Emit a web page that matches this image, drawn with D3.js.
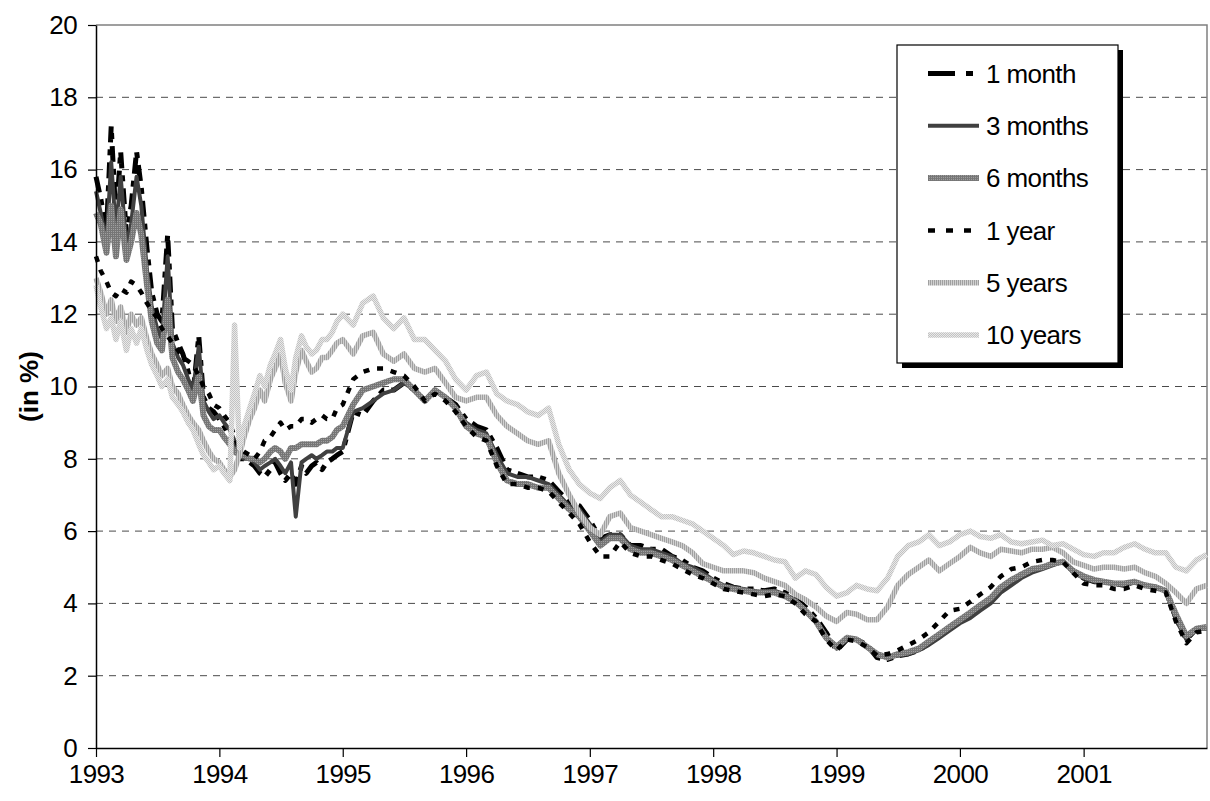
<!DOCTYPE html>
<html>
<head>
<meta charset="utf-8">
<script src="https://cdn.jsdelivr.net/npm/d3@7"></script>
<style>
  body { margin: 0; background: #fff; }
  svg { display: block; font-family: "Liberation Sans", Arial, sans-serif; }
</style>
</head>
<body>
<div id="chart"></div>
<script>
// observation dates: half-monthly in 1993-94, monthly afterwards
const dates = [
  "1993-01-01","1993-01-15","1993-02-01","1993-02-15","1993-03-01","1993-03-15","1993-04-01","1993-04-15","1993-05-01","1993-05-15","1993-06-01","1993-06-15",
  "1993-07-01","1993-07-15","1993-08-01","1993-08-15","1993-09-01","1993-09-15","1993-10-01","1993-10-15","1993-11-01","1993-11-15","1993-12-01","1993-12-15",
  "1994-01-01","1994-01-15","1994-02-01","1994-02-15","1994-03-01","1994-03-15","1994-04-01","1994-04-15","1994-05-01","1994-05-15","1994-06-01","1994-06-15",
  "1994-07-01","1994-07-15","1994-08-01","1994-08-15","1994-09-01","1994-09-15","1994-10-01","1994-10-15","1994-11-01","1994-11-15","1994-12-01","1994-12-15",
  "1995-01-01","1995-02-01","1995-03-01","1995-04-01","1995-05-01","1995-06-01","1995-07-01","1995-08-01","1995-09-01","1995-10-01","1995-11-01","1995-12-01",
  "1996-01-01","1996-02-01","1996-03-01","1996-04-01","1996-05-01","1996-06-01","1996-07-01","1996-08-01","1996-09-01","1996-10-01","1996-11-01","1996-12-01",
  "1997-01-01","1997-02-01","1997-03-01","1997-04-01","1997-05-01","1997-06-01","1997-07-01","1997-08-01","1997-09-01","1997-10-01","1997-11-01","1997-12-01",
  "1998-01-01","1998-02-01","1998-03-01","1998-04-01","1998-05-01","1998-06-01","1998-07-01","1998-08-01","1998-09-01","1998-10-01","1998-11-01","1998-12-01",
  "1999-01-01","1999-02-01","1999-03-01","1999-04-01","1999-05-01","1999-06-01","1999-07-01","1999-08-01","1999-09-01","1999-10-01","1999-11-01","1999-12-01",
  "2000-01-01","2000-02-01","2000-03-01","2000-04-01","2000-05-01","2000-06-01","2000-07-01","2000-08-01","2000-09-01","2000-10-01","2000-11-01","2000-12-01",
  "2001-01-01","2001-02-01","2001-03-01","2001-04-01","2001-05-01","2001-06-01","2001-07-01","2001-08-01","2001-09-01","2001-10-01","2001-11-01","2001-12-01",
  "2001-12-31"
];

const oneMonth = [
  15.8,15.2,14.3,17.2,14.6,16.5,14.2,15.0,16.5,15.5,13.8,12.6,12.0,11.8,14.2,11.6,11.2,10.9,10.4,9.8,11.4,9.7,9.4,9.3,
  9.1,8.9,8.6,8.3,8.0,8.0,7.9,7.8,7.6,7.5,7.7,7.9,7.6,7.4,7.6,7.3,7.8,7.6,7.8,7.9,7.7,7.9,8.0,8.1,
  8.2,9.3,9.2,9.6,9.9,9.9,10.1,9.9,9.6,9.9,9.7,9.5,
  9.1,8.9,8.8,8.3,7.7,7.6,7.5,7.5,7.4,7.1,6.8,6.7,
  6.3,5.8,5.9,5.9,5.6,5.6,5.5,5.5,5.3,5.2,5.0,4.9,
  4.7,4.55,4.45,4.4,4.4,4.35,4.4,4.3,4.15,3.9,3.6,3.2,
  2.7,3.0,3.0,2.85,2.5,2.45,2.55,2.6,2.7,2.9,3.1,3.3,
  3.5,3.7,3.9,4.1,4.4,4.6,4.8,4.9,5.0,5.1,5.15,4.9,
  4.7,4.6,4.6,4.55,4.5,4.6,4.5,4.45,4.35,3.6,3.0,3.3,
  3.35
];
const threeMonths = [
  15.4,14.8,14.0,16.2,14.3,15.8,13.9,14.5,15.8,15.0,13.2,12.2,11.6,11.3,13.6,11.2,10.8,10.6,10.2,9.9,11.1,9.6,9.3,9.1,
  9.2,9.0,8.8,8.5,8.1,8.0,8.0,7.9,7.7,7.8,7.9,8.0,7.8,7.6,7.9,6.4,7.9,8.0,8.1,8.0,8.1,8.2,8.2,8.3,
  8.3,9.3,9.4,9.6,9.8,9.9,10.1,9.9,9.6,9.9,9.7,9.4,
  9.0,8.8,8.7,8.1,7.6,7.5,7.5,7.4,7.3,7.0,6.7,6.6,
  6.2,5.7,5.9,5.9,5.6,5.5,5.5,5.4,5.3,5.1,5.0,4.85,
  4.65,4.5,4.45,4.4,4.35,4.3,4.35,4.25,4.1,3.8,3.5,3.1,
  2.75,3.0,3.0,2.8,2.55,2.5,2.55,2.6,2.7,2.85,3.05,3.25,
  3.45,3.6,3.8,4.0,4.3,4.5,4.7,4.85,4.95,5.05,5.15,4.85,
  4.7,4.6,4.6,4.55,4.5,4.6,4.5,4.45,4.35,3.55,3.0,3.3,
  3.3
];
const sixMonths = [
  14.8,14.5,13.7,15.0,13.6,14.9,13.5,14.0,14.8,14.2,12.8,11.8,11.2,11.0,12.4,10.8,10.4,10.2,9.9,9.6,10.3,9.2,8.9,8.8,
  8.8,8.6,8.4,8.2,8.1,8.1,8.0,8.0,7.9,8.0,8.2,8.3,8.2,8.0,8.3,8.3,8.4,8.4,8.4,8.4,8.5,8.5,8.6,8.8,
  8.9,9.5,9.9,10.0,10.1,10.2,10.2,9.9,9.6,9.9,9.7,9.4,
  8.9,8.7,8.6,7.9,7.4,7.3,7.3,7.2,7.2,6.9,6.6,6.4,
  6.0,5.6,5.8,5.8,5.5,5.4,5.4,5.3,5.2,5.05,4.9,4.75,
  4.6,4.45,4.4,4.35,4.3,4.3,4.3,4.2,4.05,3.8,3.5,3.05,
  2.8,3.05,3.0,2.8,2.6,2.5,2.6,2.65,2.75,2.95,3.15,3.35,
  3.55,3.75,3.95,4.15,4.45,4.65,4.8,4.95,5.0,5.1,5.15,4.9,
  4.75,4.65,4.6,4.55,4.55,4.6,4.5,4.45,4.35,3.7,3.1,3.3,
  3.35
];
const oneYear = [
  13.6,13.2,12.9,12.6,12.5,12.7,12.6,12.9,12.8,12.6,12.3,12.1,11.9,11.6,11.4,11.2,11.0,10.8,10.7,10.6,10.3,10.0,9.8,9.5,
  9.4,9.2,9.0,8.6,8.3,8.2,8.1,8.0,8.2,8.5,8.6,8.8,9.0,8.8,8.9,8.9,9.1,9.1,9.0,9.1,9.2,9.1,9.1,9.4,
  9.5,10.2,10.4,10.5,10.5,10.4,10.3,10.0,9.6,9.8,9.6,9.3,
  8.9,8.6,8.5,7.8,7.3,7.3,7.2,7.2,7.1,6.8,6.5,6.2,
  5.7,5.3,5.3,5.7,5.4,5.3,5.3,5.2,5.1,4.95,4.8,4.7,
  4.55,4.4,4.35,4.3,4.25,4.2,4.25,4.2,4.0,3.7,3.5,3.0,
  2.7,3.0,2.95,2.8,2.55,2.6,2.7,2.85,3.0,3.2,3.5,3.8,
  3.85,4.05,4.25,4.45,4.75,4.95,5.0,5.15,5.2,5.2,5.15,4.85,
  4.55,4.5,4.5,4.4,4.4,4.5,4.4,4.35,4.3,3.5,2.9,3.2,
  3.25
];
const fiveYears = [
  13.0,12.6,12.0,12.4,11.8,12.2,11.5,12.0,11.7,11.9,11.3,10.9,10.6,10.3,10.5,10.0,9.8,9.5,9.2,9.0,8.8,8.5,8.2,8.0,
  7.9,7.7,7.5,7.7,8.1,8.6,9.1,9.4,9.9,9.6,10.2,10.5,10.9,10.1,9.6,10.4,11.0,10.7,10.4,10.5,10.8,10.8,11.0,11.2,
  11.3,10.9,11.4,11.5,10.9,10.7,10.9,10.5,10.4,10.5,10.1,9.7,
  9.6,9.7,9.7,9.2,8.9,8.7,8.5,8.4,8.5,7.6,7.0,6.5,
  6.1,5.9,6.4,6.5,6.1,6.0,5.9,5.8,5.7,5.6,5.4,5.1,
  5.0,4.9,4.9,4.9,4.85,4.7,4.6,4.5,4.25,4.1,3.9,3.65,
  3.5,3.75,3.7,3.55,3.55,3.9,4.5,4.8,5.0,5.2,4.9,5.1,
  5.3,5.55,5.4,5.3,5.5,5.45,5.4,5.5,5.5,5.55,5.4,5.15,
  5.05,4.95,5.0,5.0,4.95,5.0,4.85,4.75,4.55,4.3,4.0,4.4,
  4.5
];
const tenYears = [
  12.8,12.2,11.6,11.9,11.3,11.8,11.0,11.6,11.2,11.6,11.0,10.6,10.3,10.0,10.2,9.7,9.5,9.3,9.0,8.8,8.4,8.1,7.9,7.7,
  7.8,7.6,7.4,11.7,8.3,8.9,9.4,9.8,10.3,10.0,10.6,10.9,11.3,10.5,9.9,10.8,11.4,11.1,10.9,11.0,11.3,11.3,11.5,11.8,
  12.0,11.7,12.3,12.5,11.9,11.6,11.9,11.3,11.3,11.0,10.7,10.2,
  9.9,10.3,10.4,9.8,9.6,9.5,9.3,9.2,9.4,8.4,7.7,7.3,
  7.05,6.9,7.2,7.4,7.0,6.8,6.6,6.4,6.4,6.3,6.2,6.0,
  5.8,5.6,5.35,5.45,5.4,5.3,5.2,5.15,4.7,4.9,4.8,4.45,
  4.2,4.3,4.5,4.4,4.35,4.7,5.3,5.6,5.7,5.9,5.6,5.7,
  5.9,6.0,5.85,5.8,5.9,5.7,5.65,5.7,5.75,5.6,5.65,5.5,
  5.35,5.3,5.4,5.4,5.55,5.65,5.5,5.4,5.4,5.0,4.9,5.2,
  5.35
];

const seriesNames = ["1 month", "3 months", "6 months", "1 year", "5 years", "10 years"];
const seriesValues = [oneMonth, threeMonths, sixMonths, oneYear, fiveYears, tenYears];
const yTicks = [0, 2, 4, 6, 8, 10, 12, 14, 16, 18, 20];
const xTicks = ["1993", "1994", "1995", "1996", "1997", "1998", "1999", "2000", "2001"];

// line looks, same order as seriesNames
const looks = [
  { stroke: "#000", width: 5, dash: "16,7,6,7", legendDash: "27,11,7,20" },
  { stroke: "#404040", width: 4, dash: null },
  { stroke: "url(#pat6m)", width: 6, dash: null },
  { stroke: "#000", width: 4.5, dash: "6,8", legendDash: "7,11" },
  { stroke: "url(#pat5y)", width: 5.5, dash: null },
  { stroke: "url(#pat10y)", width: 5.5, dash: null }
];

const W = 1210, H = 801;
const margin = { top: 25, right: 3, bottom: 53, left: 96 };
const parse = d3.timeParse("%Y-%m-%d");
const labelFont = { size: "26px", spacing: "-0.6px" };

const svg = d3.select("#chart").append("svg")
  .attr("width", W).attr("height", H);

const defs = svg.append("defs");
function pattern(id, cells) {
  const p = defs.append("pattern").attr("id", id)
    .attr("patternUnits", "userSpaceOnUse").attr("width", 2).attr("height", 2);
  cells.forEach(c => p.append("rect").attr("x", c[0]).attr("y", c[1])
    .attr("width", c[2]).attr("height", c[3]).attr("fill", c[4]));
}
pattern("pat6m", [[0, 0, 2, 2, "#767676"], [1, 1, 1, 1, "#a0a0a0"]]);
pattern("pat5y", [[0, 0, 1, 2, "#a0a0a0"], [1, 0, 1, 2, "#d0d0d0"]]);
pattern("pat10y", [[0, 0, 2, 2, "#e8e8e8"], [0, 0, 1, 1, "#c2c2c2"], [1, 1, 1, 1, "#c2c2c2"]]);

const x = d3.scaleTime()
  .domain([parse("1993-01-01"), parse("2002-01-01")])
  .range([margin.left, W - margin.right]);
const y = d3.scaleLinear()
  .domain([0, 20])
  .range([H - margin.bottom, margin.top]);

// gridlines
svg.append("g").selectAll("line")
  .data(yTicks.filter(v => v > 0 && v < 20))
  .enter().append("line")
  .attr("x1", margin.left).attr("x2", W - margin.right)
  .attr("y1", d => y(d)).attr("y2", d => y(d))
  .attr("stroke", "#4a4a4a").attr("stroke-width", 1)
  .attr("stroke-dasharray", "7,6");

// plot frame top/right
svg.append("path")
  .attr("d", `M${margin.left},${y(20)}H${W - margin.right}V${y(0)}`)
  .attr("fill", "none").attr("stroke", "#808080").attr("stroke-width", 1.5);

// series
const line = d3.line()
  .defined(d => d.v != null)
  .x(d => x(d.date))
  .y(d => y(d.v));

seriesValues.forEach((vals, i) => {
  const pts = dates.map((d, j) => ({ date: parse(d), v: vals[j] }));
  svg.append("path")
    .datum(pts)
    .attr("fill", "none")
    .attr("stroke", looks[i].stroke)
    .attr("stroke-width", looks[i].width)
    .attr("stroke-dasharray", looks[i].dash)
    .attr("stroke-linejoin", "round")
    .attr("d", line);
});

// axes
const yAxis = svg.append("g")
  .attr("transform", `translate(${margin.left},0)`)
  .call(d3.axisLeft(y).tickValues(yTicks).tickSize(8).tickPadding(11).tickSizeOuter(0));
const xAxis = svg.append("g")
  .attr("transform", `translate(0,${y(0)})`)
  .call(d3.axisBottom(x)
    .tickValues(xTicks.map(t => parse(t + "-01-01")))
    .tickFormat(d3.timeFormat("%Y"))
    .tickSize(9).tickPadding(8).tickSizeOuter(0));

[yAxis, xAxis].forEach(g => {
  g.select(".domain").attr("stroke", "#000").attr("stroke-width", 1.5);
  g.selectAll(".tick line").attr("stroke", "#000").attr("stroke-width", 1.2);
  g.selectAll(".tick text")
    .attr("fill", "#000")
    .style("font-size", labelFont.size)
    .style("letter-spacing", labelFont.spacing)
    .style("font-family", "'Liberation Sans', Arial, sans-serif");
});

svg.append("text")
  .attr("transform", `translate(29,${(y(0) + y(20)) / 2}) rotate(-90)`)
  .attr("text-anchor", "middle")
  .attr("dy", "0.35em")
  .style("font-size", labelFont.size)
  .style("font-weight", "bold")
  .text("(in %)");

// legend
const lg = { x: 897, y: 45, w: 221, h: 318, shadow: 5 };
svg.append("rect")
  .attr("x", lg.x + lg.shadow).attr("y", lg.y + lg.shadow)
  .attr("width", lg.w).attr("height", lg.h).attr("fill", "#000");
svg.append("rect")
  .attr("x", lg.x).attr("y", lg.y)
  .attr("width", lg.w).attr("height", lg.h)
  .attr("fill", "#fff").attr("stroke", "#000").attr("stroke-width", 1.2);

const legendRow = d3.scaleLinear().domain([0, 5]).range([73.5, 335]);
const items = svg.append("g").selectAll("g")
  .data(seriesNames)
  .enter().append("g")
  .attr("transform", (d, i) => `translate(0,${legendRow(i)})`);
items.append("line")
  .attr("x1", 928).attr("x2", 979)
  .attr("stroke", (d, i) => looks[i].stroke)
  .attr("stroke-width", (d, i) => looks[i].width)
  .attr("stroke-dasharray", (d, i) => looks[i].legendDash || looks[i].dash);
items.append("text")
  .attr("x", 986).attr("dy", "0.35em")
  .style("font-size", labelFont.size)
  .style("letter-spacing", labelFont.spacing)
  .text(d => d);
</script>
</body>
</html>
